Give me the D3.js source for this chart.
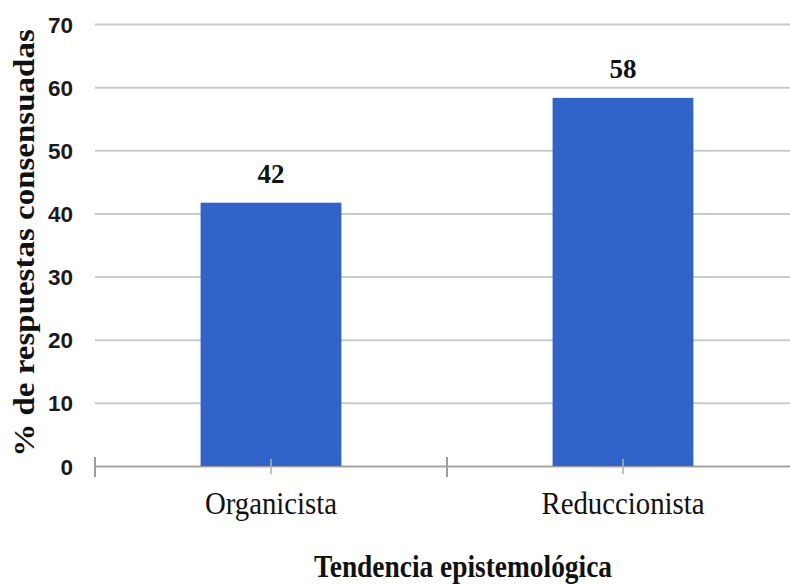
<!DOCTYPE html>
<html>
<head>
<meta charset="utf-8">
<script src="https://cdn.jsdelivr.net/npm/d3@7"></script>
<style>
  html, body { margin: 0; padding: 0; background: #fff; }
  svg { display: block; }
</style>
</head>
<body>
<svg id="chart" width="790" height="585"></svg>
<script>
const categories = ["Organicista", "Reduccionista"];
const values = [41.7, 58.3];
const valueLabels = ["42", "58"];
const yTicks = [0, 10, 20, 30, 40, 50, 60, 70];
const yTitle = "% de respuestas consensuadas";
const xTitle = "Tendencia epistemológica";

const svg = d3.select("#chart");
const W = 790;
const plot = { left: 95, right: 799, top: 24, bottom: 466 };

const y = d3.scaleLinear().domain([0, 70]).range([plot.bottom, plot.top]);
const x = d3.scaleBand().domain(categories).range([plot.left, plot.right])
  .paddingInner(0.6).paddingOuter(0.3);

// Gridlines + y tick labels
const yAxis = d3.axisLeft(y).tickValues(yTicks).tickSize(-(W - plot.left)).tickPadding(22).tickFormat(d3.format("d"));
const gy = svg.append("g").attr("transform", `translate(${plot.left},0)`).call(yAxis);
gy.select(".domain").remove();
gy.selectAll(".tick line").attr("stroke", d => d === 0 ? "#a3a3a3" : "#cacaca").attr("stroke-width", 2);
gy.selectAll(".tick text")
  .attr("fill", "#1a1a1a")
  .style("font-family", "'Liberation Sans', Arial, sans-serif")
  .style("font-weight", "bold")
  .style("font-size", "22.5px")
  .attr("dy", "0.36em");

// Bars
svg.append("g").selectAll("rect").data(categories).join("rect")
  .attr("x", d => x(d))
  .attr("y", (d, i) => y(values[i]))
  .attr("width", x.bandwidth())
  .attr("height", (d, i) => y(0) - y(values[i]))
  .attr("fill", "#3163c9");

// Category boundary ticks
const step = x.step();
const bounds = [x(categories[0]) - step * x.paddingOuter()];
categories.forEach(c => bounds.push(x(c) + x.bandwidth() / 2 + step / 2));
svg.append("g").selectAll("line").data(bounds).join("line")
  .attr("x1", d => d).attr("x2", d => d)
  .attr("y1", y(0) - 9).attr("y2", y(0) + 11)
  .attr("stroke", "#9d9d9d").attr("stroke-width", 2);

// Center ticks
svg.append("g").selectAll("line").data(categories).join("line")
  .attr("x1", d => x(d) + x.bandwidth() / 2).attr("x2", d => x(d) + x.bandwidth() / 2)
  .attr("y1", y(0) - 7).attr("y2", y(0) + 8)
  .attr("stroke", "#b0b0b0").attr("stroke-width", 2).attr("opacity", 0.8);

// Value labels
svg.append("g").selectAll("text").data(categories).join("text")
  .attr("x", d => x(d) + x.bandwidth() / 2)
  .attr("y", (d, i) => y(values[i]) - 20)
  .attr("text-anchor", "middle")
  .style("font-family", "'Liberation Serif', 'Times New Roman', serif")
  .style("font-weight", "bold")
  .style("font-size", "27px")
  .attr("fill", "#111")
  .text((d, i) => valueLabels[i]);

// Category labels
svg.append("g").selectAll("text").data(categories).join("text")
  .attr("transform", d => `translate(${x(d) + x.bandwidth() / 2},514) scale(0.9,1)`)
  .attr("text-anchor", "middle")
  .style("font-family", "'Liberation Serif', 'Times New Roman', serif")
  .style("font-size", "32px")
  .attr("fill", "#111")
  .text(d => d);

// X axis title
svg.append("text")
  .attr("transform", "translate(463,577) scale(0.87,1)")
  .attr("text-anchor", "middle")
  .style("font-family", "'Liberation Serif', 'Times New Roman', serif")
  .style("font-weight", "bold")
  .style("font-size", "31.5px")
  .attr("fill", "#111")
  .text(xTitle);

// Y axis title
svg.append("text")
  .attr("transform", `translate(34,${(plot.top + plot.bottom) / 2 - 2}) rotate(-90) scale(1,0.88)`)
  .attr("text-anchor", "middle")
  .style("font-family", "'Liberation Serif', 'Times New Roman', serif")
  .style("font-weight", "bold")
  .style("font-size", "33px")
  .attr("fill", "#111")
  .text(yTitle);
</script>
</body>
</html>
